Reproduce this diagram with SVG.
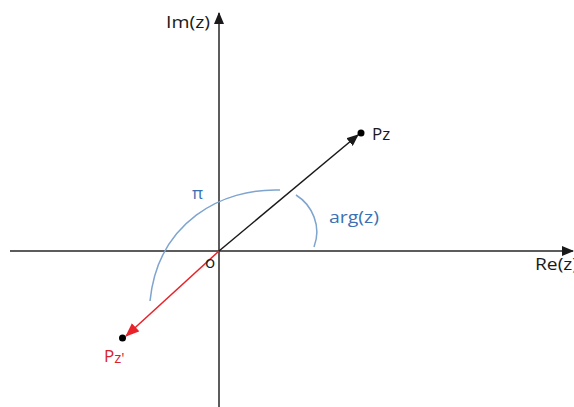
<svg xmlns="http://www.w3.org/2000/svg" width="574" height="407" viewBox="0 0 574 407">
<defs>
<style>
.ax{stroke:#262626;stroke-width:1.5;fill:none}
.vec{stroke:#1a1a1a;stroke-width:1.5;fill:none}
.red{stroke:#e8232a;stroke-width:1.5;fill:none}
.arc{stroke:#7ea4cf;stroke-width:1.5;fill:none}
.t{font-family:"Open Sans","DejaVu Sans",sans-serif;font-size:17px;fill:#1a1a1a}
.bt{font-family:"Open Sans","DejaVu Sans",sans-serif;font-size:17px;fill:#3b71b3}
.rt{font-family:"Open Sans","DejaVu Sans",sans-serif;font-size:17px;fill:#d9232a}
</style>
<marker id="ahb" viewBox="0 0 12 10" refX="11" refY="5" markerWidth="12" markerHeight="10" markerUnits="userSpaceOnUse" orient="auto">
<path d="M0,0 L12,5 L0,10 Z" fill="#1a1a1a"/>
</marker>
<marker id="ahr" viewBox="0 0 14 11" refX="13" refY="5.5" markerWidth="14" markerHeight="11" markerUnits="userSpaceOnUse" orient="auto">
<path d="M0,0 L14,5.5 L0,11 Z" fill="#e8232a"/>
</marker>
</defs>
<rect width="574" height="407" fill="#ffffff"/>
<g id="connectors">
<line id="im-axis" class="ax" x1="219" y1="407" x2="219" y2="13" marker-end="url(#ahb)"/>
<line id="re-axis" class="ax" x1="10" y1="251" x2="573" y2="251" marker-end="url(#ahb)"/>
<line id="vec-z" class="vec" x1="219" y1="251" x2="358" y2="135" marker-end="url(#ahb)"/>
<line id="vec-z2" class="red" x1="219" y1="251" x2="126" y2="336" marker-end="url(#ahr)"/>
<path id="arc-pi" class="arc" d="M280,190 C222,188 158,222 150,301"/>
<path id="arc-arg" class="arc" d="M296,195 C312,205 322,226 314,247"/>
</g>
<g id="node-imz"><text class="t" x="166" y="28" textLength="44" lengthAdjust="spacingAndGlyphs">Im(z)</text></g>
<g id="node-rez"><text class="t" x="535" y="270" textLength="43" lengthAdjust="spacingAndGlyphs">Re(z)</text></g>
<g id="node-o"><text class="t" x="205" y="268" font-size="18">o</text></g>
<g id="node-pz">
<circle cx="361" cy="133" r="3.5" fill="#000"/>
<text class="t" x="372" y="140" font-size="18">P<tspan font-size="17">z</tspan></text>
</g>
<g id="node-pz2">
<circle cx="122.5" cy="338" r="3.5" fill="#000"/>
<text class="rt" x="104" y="362" font-size="19">P<tspan font-size="15" dy="1">z'</tspan></text>
</g>
<g id="node-pi"><text class="bt" x="192" y="199" font-size="21">π</text></g>
<g id="node-arg"><text class="bt" x="329" y="223" textLength="50" lengthAdjust="spacingAndGlyphs">arg(z)</text></g>
</svg>
